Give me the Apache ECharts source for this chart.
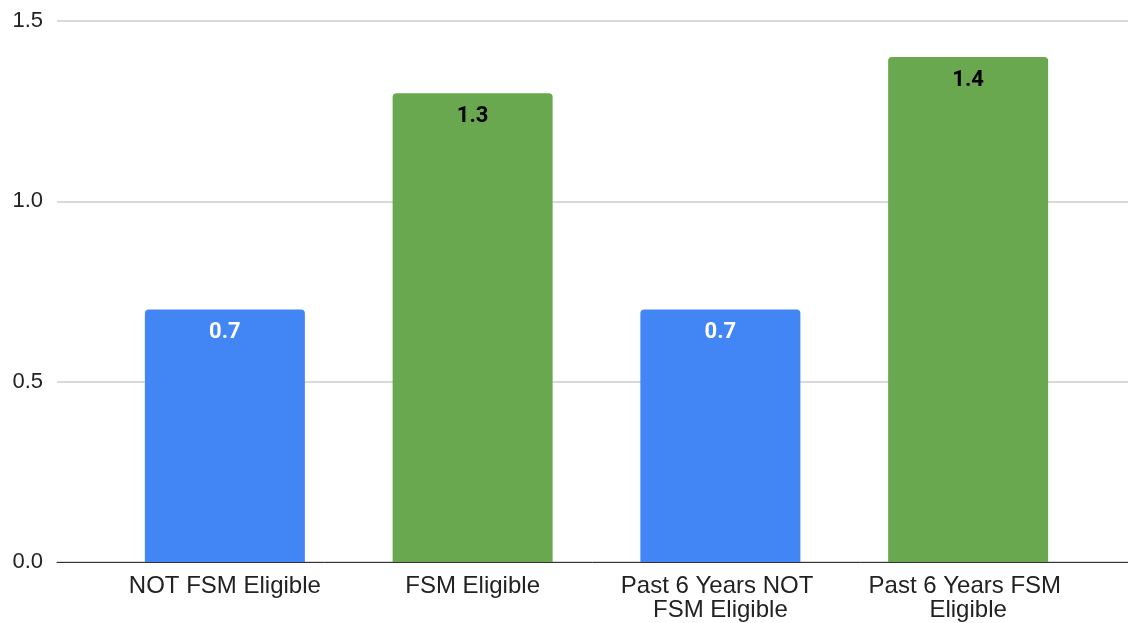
<!DOCTYPE html>
<html>
<head>
<meta charset="utf-8">
<script src="https://cdn.jsdelivr.net/npm/echarts@6/dist/echarts.min.js"></script>
<style>
    html, body { margin: 0; padding: 0; background: #fff; }
    #main { width: 1128px; height: 623px; }
</style>
</head>
<body>
<div id="main"></div>
<script>
var categories = ['NOT FSM Eligible', 'FSM Eligible', 'Past 6 Years NOT FSM Eligible', 'Past 6 Years FSM Eligible'];
var values = [0.7, 1.3, 0.7, 1.4];
var yTicks = ['0.0', '0.5', '1.0', '1.5'];

var blue = '#4285f4';
var green = '#6aa84f';
var barColors = [blue, green, blue, green];
var labelColors = ['#ffffff', '#000000', '#ffffff', '#000000'];

var chart = echarts.init(document.getElementById('main'));

var barData = [];
for (var i = 0; i < values.length; i++) {
    barData.push({
        value: values[i],
        itemStyle: {color: barColors[i]},
        label: {color: labelColors[i]}
    });
}

var option = {
    animation: false,
    grid: [
        // wide grid: y labels, gridlines and baseline
        {left: 57, right: 0, top: 21, bottom: 61},
        // narrower grid where the bars sit
        {left: 101, right: 36, top: 21, bottom: 61}
    ],
    xAxis: [
        {
            gridIndex: 0,
            type: 'value',
            min: 0,
            max: 1,
            axisLine: {show: true, lineStyle: {color: '#333333', width: 1}},
            axisTick: {show: false},
            axisLabel: {show: false},
            splitLine: {show: false}
        },
        {
            gridIndex: 1,
            type: 'category',
            data: categories,
            axisLine: {show: false},
            axisTick: {show: false},
            axisLabel: {
                interval: 0,
                margin: 12,
                color: '#222222',
                fontFamily: 'Liberation Sans',
                fontSize: 24,
                lineHeight: 24,
                width: 220,
                overflow: 'break'
            }
        }
    ],
    yAxis: [
        {
            gridIndex: 0,
            type: 'value',
            min: 0,
            max: 1.5,
            interval: 0.5,
            axisLine: {show: false},
            axisTick: {show: false},
            axisLabel: {
                margin: 14,
                color: '#222222',
                fontFamily: 'Liberation Sans',
                fontSize: 22,
                formatter: function (v) {
                    return yTicks[Math.round(v / 0.5)];
                }
            },
            splitLine: {lineStyle: {color: '#cccccc', width: 1.5}}
        },
        {
            gridIndex: 1,
            type: 'value',
            min: 0,
            max: 1.5,
            show: false
        }
    ],
    series: [
        {
            type: 'bar',
            xAxisIndex: 1,
            yAxisIndex: 1,
            barWidth: 160,
            data: barData,
            itemStyle: {borderRadius: [4, 4, 0, 0]},
            label: {
                show: true,
                position: 'insideTop',
                distance: 12,
                fontFamily: 'Roboto',
                fontWeight: 'bold',
                fontSize: 22,
                formatter: function (p) {
                    return p.value.toFixed(1);
                }
            }
        }
    ]
};

chart.setOption(option);
</script>
</body>
</html>
